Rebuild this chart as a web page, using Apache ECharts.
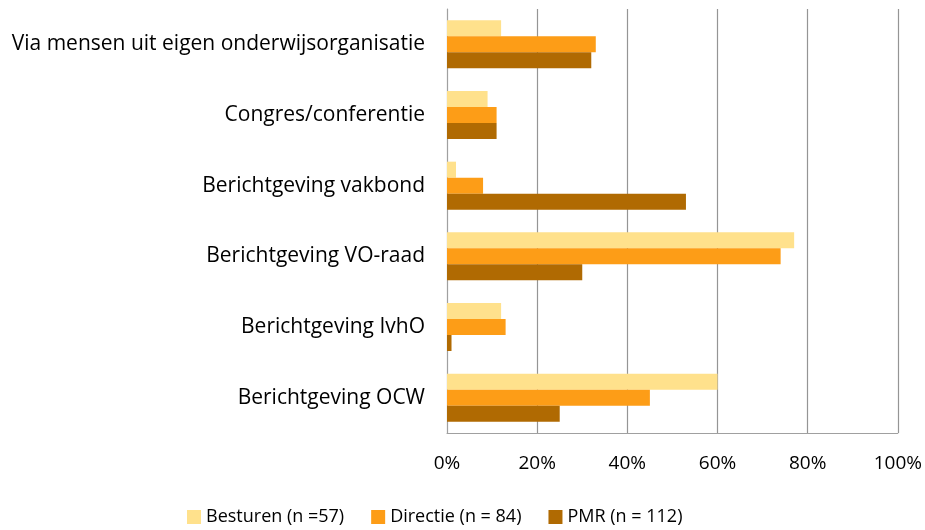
<!DOCTYPE html>
<html>
<head>
<meta charset="utf-8">
<script src="https://cdn.jsdelivr.net/npm/echarts@6/dist/echarts.min.js"></script>
<style>
  html, body { margin: 0; padding: 0; background: #fff; }
  #chart { width: 925px; height: 530px; }
</style>
</head>
<body>
<div id="chart"></div>
<script>
// categories, top to bottom
var categories = [
    'Via mensen uit eigen onderwijsorganisatie',
    'Congres/conferentie',
    'Berichtgeving vakbond',
    'Berichtgeving VO-raad',
    'Berichtgeving IvhO',
    'Berichtgeving OCW'
];
var seriesNames = ['Besturen (n =57)', 'Directie (n = 84)', 'PMR (n = 112)'];
var besturen = [12, 9, 2, 77, 12, 60];
var directie = [33, 11, 8, 74, 13, 45];
var pmr = [32, 11, 53, 30, 1, 25];
var xTicks = [0, 20, 40, 60, 80, 100];

var colors = ['#FFE18C', '#FD9D17', '#B06A02'];
var font = 'Open Sans';

function makeSeries(name, data, i) {
    return {
        name: name,
        type: 'bar',
        data: data,
        barWidth: 16,
        barGap: '0%',
        itemStyle: { color: colors[i] },
        emphasis: { disabled: true }
    };
}

var option = {
    animation: false,
    textStyle: { fontFamily: font },
    grid: { left: 447, right: 27, top: 9, bottom: 97, containLabel: false },
    xAxis: {
        type: 'value',
        min: xTicks[0],
        max: xTicks[xTicks.length - 1],
        interval: 20,
        axisLine: { show: true, lineStyle: { color: '#a0a0a0', width: 1 } },
        axisTick: { show: false },
        splitLine: { show: true, lineStyle: { color: '#959595', width: 1.2 } },
        axisLabel: {
            formatter: '{value}%',
            fontSize: 19,
            color: '#000',
            margin: 21,
            fontFamily: font
        }
    },
    yAxis: {
        type: 'category',
        data: categories,
        inverse: true,
        axisLine: { show: true, lineStyle: { color: '#a0a0a0', width: 1 } },
        axisTick: { show: false },
        axisLabel: { fontSize: 21, color: '#000', margin: 22, fontFamily: font }
    },
    legend: {
        data: seriesNames,
        bottom: -1,
        left: 182,
        itemWidth: 14,
        itemHeight: 14,
        itemGap: 27,
        icon: 'rect',
        textStyle: { fontSize: 18, color: '#000', fontFamily: font }
    },
    series: [
        makeSeries(seriesNames[0], besturen, 0),
        makeSeries(seriesNames[1], directie, 1),
        makeSeries(seriesNames[2], pmr, 2)
    ]
};

var myChart = echarts.init(document.getElementById('chart'));
myChart.setOption(option);
</script>
</body>
</html>
